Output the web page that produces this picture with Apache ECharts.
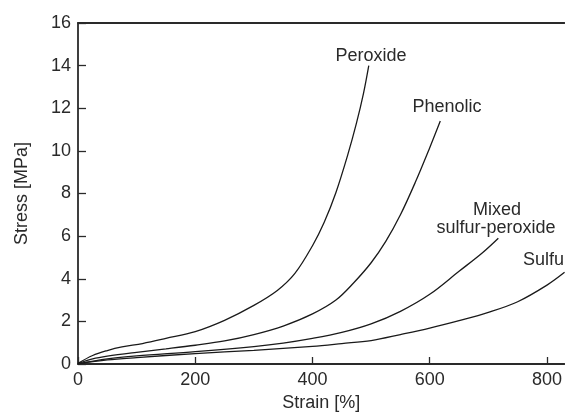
<!DOCTYPE html>
<html>
<head>
<meta charset="utf-8">
<script src="https://cdn.jsdelivr.net/npm/echarts@6/dist/echarts.min.js"></script>
<style>
html,body{margin:0;padding:0;background:#fff;}
#chart{width:565px;height:417px;}
</style>
</head>
<body>
<div id="chart"></div>
<script>
// Data: [strain %, stress MPa]
var peroxide = [[0,0.03],[25,0.4],[50,0.63],[75,0.8],[110,0.96],[150,1.2],[200,1.52],[250,2.05],[300,2.75],[340,3.45],[370,4.25],[400,5.55],[420,6.65],[440,8.05],[460,9.8],[475,11.3],[487,12.7],[496,14.0]];
var phenolic = [[0,0.02],[25,0.24],[50,0.37],[100,0.55],[150,0.71],[200,0.88],[250,1.08],[300,1.38],[350,1.78],[400,2.35],[440,3.0],[470,3.8],[500,4.75],[525,5.75],[550,7.0],[575,8.5],[600,10.15],[618,11.4]];
var mixed = [[0,0.01],[50,0.24],[100,0.38],[200,0.58],[300,0.82],[350,0.98],[400,1.2],[450,1.48],[500,1.88],[550,2.47],[600,3.27],[650,4.35],[690,5.22],[717,5.9]];
var sulfur = [[0,0.01],[50,0.19],[100,0.3],[200,0.49],[300,0.64],[400,0.83],[450,0.96],[500,1.1],[550,1.38],[600,1.68],[650,2.03],[700,2.42],[750,2.92],[800,3.7],[830,4.3]];
var seriesNames = ['Peroxide','Phenolic','Mixed sulfur-peroxide','Sulfur'];
var xTicks = {min:0, max:830, interval:200};
var yTicks = {min:0, max:16, interval:2};

var chart = echarts.init(document.getElementById('chart'), null, {renderer:'canvas'});
var axisColor = '#2a2a2a';
var textColor = '#2a2a2a';
var font = 'Liberation Sans, Arial, Helvetica, sans-serif';
function lineSeries(name, data){
  return {name:name, type:'line', data:data, smooth:0.35, showSymbol:false, symbol:'none',
    lineStyle:{color:'#1a1a1a', width:1.3}, xAxisIndex:0, yAxisIndex:0, animation:false, silent:true};
}
chart.setOption({
  animation:false,
  backgroundColor:'#fff',
  grid:{left:78, top:23, right:0, bottom:50, containLabel:false},
  xAxis:[{
    type:'value', min:xTicks.min, max:xTicks.max, interval:xTicks.interval,
    name:'Strain [%]', nameLocation:'middle', nameGap:30,
    nameTextStyle:{fontSize:18, color:textColor, fontFamily:font},
    axisLine:{show:true, onZero:false, lineStyle:{color:axisColor, width:1.8}},
    axisTick:{show:true, inside:true, length:7, lineStyle:{color:axisColor, width:1.3}},
    axisLabel:{fontSize:18, color:textColor, fontFamily:font, margin:7, showMaxLabel:false,
      formatter:function(v){return (v % 200 === 0) ? String(v) : '';}},
    splitLine:{show:false}
  },{
    type:'value', position:'top', min:xTicks.min, max:xTicks.max,
    axisLine:{show:true, onZero:false, lineStyle:{color:axisColor, width:1.8}},
    axisTick:{show:false}, axisLabel:{show:false}, splitLine:{show:false}
  }],
  yAxis:[{
    type:'value', min:yTicks.min, max:yTicks.max, interval:yTicks.interval,
    name:'Stress [MPa]', nameLocation:'middle', nameGap:47,
    nameTextStyle:{fontSize:18, color:textColor, fontFamily:font},
    axisLine:{show:true, onZero:false, lineStyle:{color:axisColor, width:1.8}},
    axisTick:{show:true, inside:true, length:8, lineStyle:{color:axisColor, width:1.3}},
    axisLabel:{fontSize:18, color:textColor, fontFamily:font, margin:7},
    splitLine:{show:false}
  }],
  series:[
    lineSeries(seriesNames[0], peroxide),
    lineSeries(seriesNames[1], phenolic),
    lineSeries(seriesNames[2], mixed),
    lineSeries(seriesNames[3], sulfur)
  ],
  graphic:[
    {type:'text', x:371, y:56, style:{text:'Peroxide', font:'18px '+font, fill:textColor, textAlign:'center', textVerticalAlign:'middle'}},
    {type:'text', x:447, y:107, style:{text:'Phenolic', font:'18px '+font, fill:textColor, textAlign:'center', textVerticalAlign:'middle'}},
    {type:'text', x:497, y:210, style:{text:'Mixed', font:'18px '+font, fill:textColor, textAlign:'center', textVerticalAlign:'middle'}},
    {type:'text', x:496, y:228, style:{text:'sulfur-peroxide', font:'18px '+font, fill:textColor, textAlign:'center', textVerticalAlign:'middle'}},
    {type:'text', x:523, y:260, style:{text:'Sulfur', font:'18px '+font, fill:textColor, textAlign:'left', textVerticalAlign:'middle'}}
  ]
});
</script>
</body>
</html>
